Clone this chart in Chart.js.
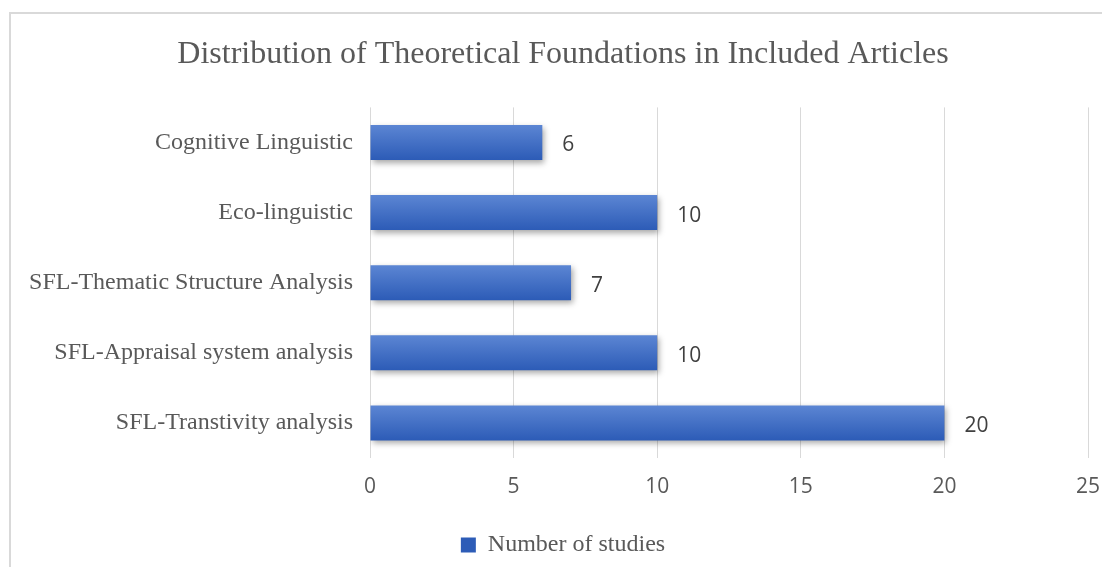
<!DOCTYPE html>
<html>
<head>
<meta charset="utf-8">
<script src="https://cdn.jsdelivr.net/npm/chart.js@4.4.0/dist/chart.umd.min.js"></script>
<style>
  html, body { margin: 0; padding: 0; background: #fff; overflow: hidden; }
  #wrap { position: relative; width: 1102px; height: 567px; }
</style>
</head>
<body>
<div id="wrap"><canvas id="chart"></canvas></div>
<script>
const chartTitle = 'Distribution of Theoretical Foundations in Included Articles';
const seriesLabel = 'Number of studies';
const categories = [
    'Cognitive Linguistic',
    'Eco-linguistic',
    'SFL-Thematic Structure Analysis',
    'SFL-Appraisal system analysis',
    'SFL-Transtivity analysis'
];
const studyCounts = [6, 10, 7, 10, 20];
const xTicks = [0, 5, 10, 15, 20, 25];

const textColor = '#595959';
const gridColor = '#d9d9d9';
const serif = '"Liberation Serif", "Times New Roman", serif';
const sans = '"Open Sans", "DejaVu Sans", sans-serif';

// light grey frame round the chart (only top and left edges show)
const framePlugin = {
    id: 'frame',
    beforeDraw(chart) {
        const ctx = chart.ctx;
        ctx.save();
        ctx.strokeStyle = gridColor;
        ctx.lineWidth = 2;
        ctx.beginPath();
        ctx.moveTo(10, chart.height);
        ctx.lineTo(10, 13);
        ctx.lineTo(chart.width, 13);
        ctx.stroke();
        ctx.restore();
    }
};

// soft drop shadow under the bars
const shadowPlugin = {
    id: 'barShadow',
    beforeDatasetsDraw(chart) {
        const ctx = chart.ctx;
        ctx.save();
        ctx.shadowColor = 'rgba(0,0,0,0.35)';
        ctx.shadowBlur = 6;
        ctx.shadowOffsetX = 2;
        ctx.shadowOffsetY = 3;
    },
    afterDatasetsDraw(chart) {
        chart.ctx.restore();
    }
};

// value labels to the right of each bar
const valueLabels = {
    id: 'valueLabels',
    afterDatasetsDraw(chart) {
        const ctx = chart.ctx;
        const meta = chart.getDatasetMeta(0);
        ctx.save();
        ctx.font = '21px ' + sans;
        ctx.fillStyle = '#404040';
        ctx.textAlign = 'left';
        ctx.textBaseline = 'middle';
        meta.data.forEach((bar, i) => {
            ctx.fillText(String(studyCounts[i]), bar.x + 20, bar.y + 3);
        });
        ctx.restore();
    }
};

const barFill = (c) => {
    const chart = c.chart;
    const yScale = chart.scales && chart.scales.y;
    if (c.type !== 'data' || !chart.chartArea || !yScale) return '#4472c4';
    const cy = yScale.getPixelForValue(c.dataIndex);
    const g = chart.ctx.createLinearGradient(0, cy - 17, 0, cy + 17);
    g.addColorStop(0, '#5b85d3');
    g.addColorStop(1, '#2d5cb7');
    return g;
};

new Chart(document.getElementById('chart'), {
    type: 'bar',
    data: {
        labels: categories,
        datasets: [{
            label: seriesLabel,
            data: studyCounts,
            backgroundColor: barFill,
            borderWidth: 0,
            barPercentage: 0.5,
            categoryPercentage: 1
        }]
    },
    options: {
        indexAxis: 'y',
        responsive: true,
        maintainAspectRatio: false,
        devicePixelRatio: 1,
        animation: false,
        layout: { padding: { left: 24, right: 0, top: 0, bottom: 0 } },
        plugins: {
            title: {
                display: true,
                text: chartTitle,
                color: textColor,
                font: { family: serif, size: 32, weight: 'normal' },
                padding: { top: 35, bottom: 34 }
            },
            legend: {
                position: 'bottom',
                labels: {
                    color: textColor,
                    font: { family: serif, size: 24 },
                    boxWidth: 15,
                    boxHeight: 15,
                    padding: 7
                }
            },
            tooltip: { enabled: false }
        },
        scales: {
            x: {
                type: 'linear',
                min: xTicks[0],
                max: xTicks[xTicks.length - 1],
                afterBuildTicks: (s) => { s.ticks = xTicks.map(v => ({ value: v })); },
                afterFit: (s) => {
                    s.height = 68;
                    s.paddingLeft = 0;
                    s.paddingRight = 14;
                },
                grid: { color: gridColor, drawTicks: false },
                border: { display: false },
                ticks: { color: textColor, font: { family: sans, size: 21 }, padding: 16 }
            },
            y: {
                afterFit: (s) => { s.width = 346; },
                grid: { display: false, drawTicks: false },
                border: { display: false },
                ticks: { color: textColor, font: { family: serif, size: 24 }, padding: 17 }
            }
        }
    },
    plugins: [framePlugin, shadowPlugin, valueLabels]
});
</script>
</body>
</html>
